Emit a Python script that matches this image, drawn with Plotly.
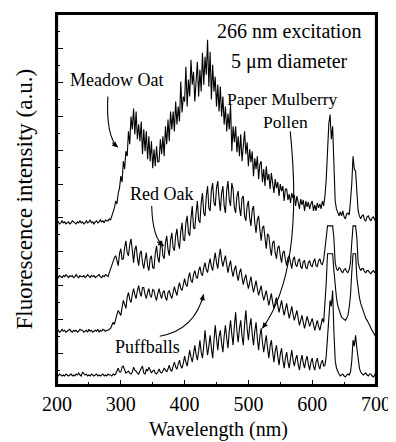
import plotly.graph_objects as go

# Wavelength sampling (nm), 2 nm steps
wavelength = list(range(200, 701, 2))

# Vertical offsets of the stacked spectra (a.u.)
offsets = {"Meadow Oat": 162, "Red Oak": 108, "Puffballs": 53, "Paper Mulberry Pollen": 9}

# axis extents
x_range = [200, 700]
y_range = [0, 373]

meadow_oat = [
    1, 2, 0, 1, 3, 1, 2, 0, 1, 2, 0, 1, 3, 2, 1, 0, 2, 1, 3, 1,
    2, 0, 1, 3, 1, 2, 4, 1, 2, 0, 2, 3, 1, 2, 4, 2, 3, 1, 4, 3,
    3, 5, 4, 8, 11, 16, 23, 20, 31, 36,
    48, 42, 63, 55, 73, 68, 93, 80, 108, 95,
    116, 90, 113, 85, 100, 83, 103, 70, 95, 73,
    93, 65, 88, 63, 83, 56, 75, 58, 78, 62,
    63, 85, 70, 88, 68, 98, 80, 105, 83, 113,
    95, 113, 93, 123, 100, 118, 103, 143, 112, 128,
    123, 158, 118, 145, 128, 165, 140, 153, 123, 150,
    163, 128, 155, 133, 172, 140, 168, 150, 185, 138,
    173, 125, 160, 133, 148, 118, 140, 113, 138, 108,
    128, 100, 118, 93, 111, 95, 120, 73, 98, 82,
    98, 72, 88, 68, 90, 63, 80, 93, 70, 82,
    58, 75, 62, 73, 48, 66, 55, 68, 45, 60,
    63, 42, 55, 38, 58, 44, 50, 35, 51, 40,
    31, 45, 36, 42, 28, 40, 33, 38, 23, 35,
    35, 24, 30, 21, 31, 26, 29, 18, 28, 22,
    15, 25, 19, 24, 13, 23, 17, 22, 15, 20,
    23, 13, 19, 13, 21, 16, 20, 15, 23, 18,
    28, 45, 83, 100, 110, 85, 98, 55, 23, 15,
    11, 8, 12, 8, 13, 7, 5, 10, 11, 9,
    23, 40, 68, 55, 53, 25, 13, 8, 5, 8,
    9, 4, 3, 7, 8, 5, 3, 6, 7, 4, 5]

red_oak = [
    1, 0, 2, 1, 0, 2, 1, 3, 1, 0, 2, 1, 2, 0, 1, 3, 1, 0, 2, 1,
    1, 2, 0, 1, 3, 1, 0, 2, 1, 2, 0, 1, 2, 3, 1, 0, 2, 1, 3, 2,
    1, 5, 9, 12, 15, 20, 22, 16, 12, 24,
    29, 18, 19, 30, 37, 25, 22, 33, 39, 28,
    15, 28, 32, 20, 12, 24, 27, 15, 9, 18,
    25, 12, 7, 19, 22, 10, 9, 24, 32, 20,
    15, 30, 37, 22, 19, 35, 42, 28, 22, 38,
    45, 30, 27, 42, 49, 35, 29, 46, 55, 38,
    37, 55, 62, 45, 42, 60, 72, 50, 49, 65,
    77, 58, 55, 75, 85, 65, 62, 82, 92, 70,
    67, 88, 95, 75, 72, 90, 97, 80, 67, 85,
    92, 72, 65, 88, 97, 78, 72, 95, 89, 70,
    65, 82, 87, 70, 62, 80, 82, 62, 57, 72,
    77, 60, 52, 68, 72, 55, 45, 58, 62, 48,
    37, 50, 52, 40, 29, 44, 42, 30, 22, 35,
    37, 25, 19, 30, 32, 22, 15, 25, 27, 18,
    12, 20, 22, 15, 9, 18, 21, 13, 11, 17,
    19, 11, 9, 16, 17, 10, 9, 15, 17, 12,
    11, 16, 19, 12, 11, 17, 19, 14, 13, 18,
    27, 40, 52, 52, 52, 52, 52, 40, 15, 9,
    7, 10, 9, 6, 5, 8, 9, 6, 5, 8,
    15, 35, 52, 52, 52, 40, 15, 10, 7, 9,
    9, 6, 5, 7, 7, 5, 4, 6, 7, 5, 5]

puffballs = [
    1, 2, 0, 1, 3, 1, 2, 0, 1, 2, 3, 1, 0, 2, 1, 2, 0, 1, 3, 2,
    2, 0, 1, 2, 0, 3, 1, 2, 0, 1, 2, 1, 3, 0, 2, 1, 3, 2, 1, 2,
    2, 3, 4, 7, 10, 8, 14, 18, 22, 19,
    17, 25, 32, 28, 24, 35, 40, 33, 30, 38,
    44, 38, 34, 42, 47, 40, 36, 45, 45, 38,
    34, 40, 44, 37, 35, 43, 42, 36, 32, 39,
    44, 38, 34, 40, 42, 35, 32, 40, 42, 37,
    34, 40, 46, 41, 37, 45, 50, 44, 42, 48,
    54, 48, 46, 55, 60, 52, 50, 58, 62, 56,
    54, 62, 66, 59, 57, 65, 70, 63, 60, 68,
    74, 66, 62, 72, 80, 70, 64, 76, 84, 73,
    66, 72, 77, 68, 60, 67, 72, 62, 56, 63,
    67, 58, 52, 60, 64, 55, 48, 54, 58, 50,
    44, 50, 56, 47, 40, 46, 52, 44, 37, 42,
    47, 38, 32, 37, 42, 34, 27, 33, 39, 30,
    24, 30, 35, 27, 20, 26, 32, 24, 17, 23,
    29, 21, 14, 20, 26, 18, 12, 17, 22, 14,
    7, 12, 17, 10, 4, 10, 16, 11, 6, 10,
    14, 8, 2, 7, 12, 6, 2, 8, 14, 10,
    27, 50, 79, 79, 79, 79, 79, 62, 45, 35,
    27, 22, 17, 15, 14, 13, 12, 14, 17, 25,
    37, 60, 79, 79, 79, 55, 42, 35, 29, 25,
    20, 17, 14, 12, 10, 7, 4, 2, -1, -3, -5]

paper_mulberry = [
    1, 0, 2, 1, 0, 1, 0, 2, 1, 0, 1, 2, 0, 1, 0, 2, 1, 3, 1, 0,
    4, 2, 1, 2, 0, 1, 0, 2, 1, 0, 1, 2, 0, 1, 0, 1, 2, 0, 1, 0,
    2, 1, 1, 0, 2, 1, 2, 5, 8, 4,
    4, 9, 10, 6, 3, 4, 5, 3, 2, 4,
    9, 6, 5, 3, 2, 5, 8, 10, 3, 2,
    7, 5, 9, 6, 3, 5, 6, 3, 2, 4,
    7, 4, 3, 5, 8, 6, 4, 7, 11, 6,
    5, 10, 14, 9, 7, 12, 16, 10, 8, 13,
    20, 14, 10, 18, 26, 19, 14, 22, 31, 22,
    16, 25, 36, 24, 18, 30, 46, 33, 21, 30,
    41, 28, 18, 35, 51, 38, 26, 40, 46, 33,
    24, 40, 51, 38, 28, 45, 56, 42, 31, 50,
    64, 45, 34, 48, 56, 40, 31, 52, 66, 48,
    36, 50, 58, 42, 31, 45, 54, 38, 26, 40,
    48, 34, 24, 33, 41, 28, 18, 30, 36, 24,
    14, 25, 31, 20, 11, 22, 28, 16, 8, 18,
    24, 14, 8, 18, 26, 16, 10, 17, 21, 12,
    6, 15, 21, 13, 8, 16, 20, 12, 6, 14,
    18, 10, 6, 14, 18, 11, 7, 13, 16, 10,
    11, 20, 36, 60, 76, 70, 86, 45, 16, 8,
    4, 2, 0, 1, 2, 0, -1, 1, 2, 1,
    4, 15, 36, 30, 41, 28, 16, 8, 4, 2,
    1, 2, 3, 1, 0, 2, 2, 0, -1, 1, 4]

series = {
    "Meadow Oat": meadow_oat,
    "Red Oak": red_oak,
    "Puffballs": puffballs,
    "Paper Mulberry Pollen": paper_mulberry,
}

FONT = "Liberation Serif"

fig = go.Figure()
for name, vals in series.items():
    off = offsets[name]
    fig.add_trace(go.Scatter(
        x=wavelength, y=[off + v for v in vals], mode="lines", name=name,
        line=dict(color="black", width=1.1), showlegend=False,
    ))

def label(text, x, y, size=18):
    fig.add_annotation(x=x, y=y, text=text, showarrow=False,
                       font=dict(family=FONT, size=size, color="black"),
                       xanchor="center", yanchor="middle")

def curved_arrow(x0, y0, cx, cy, x1, y1, ax, ay):
    fig.add_shape(type="path", xref="x", yref="y",
                  path=f"M {x0},{y0} Q {cx},{cy} {x1},{y1}",
                  line=dict(color="black", width=1.1))
    fig.add_annotation(x=x1, y=y1, ax=ax, ay=ay, text="", showarrow=True,
                       arrowhead=2, arrowsize=1, arrowwidth=1.1, arrowcolor="black")

label("266 nm excitation", 564, 356, 20)
label("5 μm diameter", 564, 325, 20)
label("Paper Mulberry", 553, 288, 17.5)
label("Pollen", 558, 264, 17.5)
label("Meadow Oat", 294, 307)
label("Red Oak", 364, 192)
label("Puffballs", 342, 38)

curved_arrow(279.7, 290, 276.6, 250, 295.3, 239, -7, -6)
curved_arrow(348.4, 180, 350, 147, 367.2, 140, -8, -5)
curved_arrow(361, 49, 415.6, 55, 429.7, 91, -2, 8)
curved_arrow(565.6, 255, 587.5, 115, 521.9, 57, 5, -7)

# plot frame as four explicit edge lines in data coordinates
for (xa, ya, xb, yb) in [(x_range[0], y_range[0], x_range[1], y_range[0]),
                         (x_range[0], y_range[1], x_range[1], y_range[1]),
                         (x_range[0], y_range[0], x_range[0], y_range[1]),
                         (x_range[1], y_range[0], x_range[1], y_range[1])]:
    fig.add_shape(type="line", xref="x", yref="y", x0=xa, y0=ya, x1=xb, y1=yb,
                  line=dict(color="black", width=2.2), layer="above")

# axis titles
fig.add_annotation(xref="paper", yref="paper", x=0, y=0.5, xshift=-33,
                   text="Fluorescence intensity (a.u.)", textangle=-90, showarrow=False,
                   font=dict(family=FONT, size=23, color="black"),
                   xanchor="center", yanchor="middle")
fig.add_annotation(xref="paper", yref="paper", x=0.505, y=0, yshift=-44,
                   text="Wavelength (nm)", showarrow=False,
                   font=dict(family=FONT, size=20, color="black"),
                   xanchor="center", yanchor="middle")

fig.update_xaxes(range=x_range, tickmode="linear", tick0=200, dtick=100,
                 ticks="inside", ticklen=5, tickwidth=1.2, tickcolor="black",
                 minor=dict(ticks="inside", dtick=50, ticklen=3, tickcolor="black"),
                 showline=True, linecolor="black", linewidth=2.2, mirror=True,
                 showgrid=False, zeroline=False,
                 tickfont=dict(family=FONT, size=20, color="black"))
fig.update_yaxes(range=y_range, tickmode="linear", tick0=32, dtick=34,
                 ticks="inside", ticklen=6, tickwidth=1.2, tickcolor="black",
                 minor=dict(ticks="inside", tick0=15, dtick=17, ticklen=3, tickcolor="black"),
                 showticklabels=False,
                 showline=True, linecolor="black", linewidth=2.2, mirror=True,
                 showgrid=False, zeroline=False)

# page body has an 8 px margin, so the figure is sized/offset to land on the 396x442 frame
fig.update_layout(width=388, height=434, margin=dict(l=49, r=20, t=4, b=57),
                  paper_bgcolor="white", plot_bgcolor="white",
                  font=dict(family=FONT, color="black"))

fig.write_html("out.html")
